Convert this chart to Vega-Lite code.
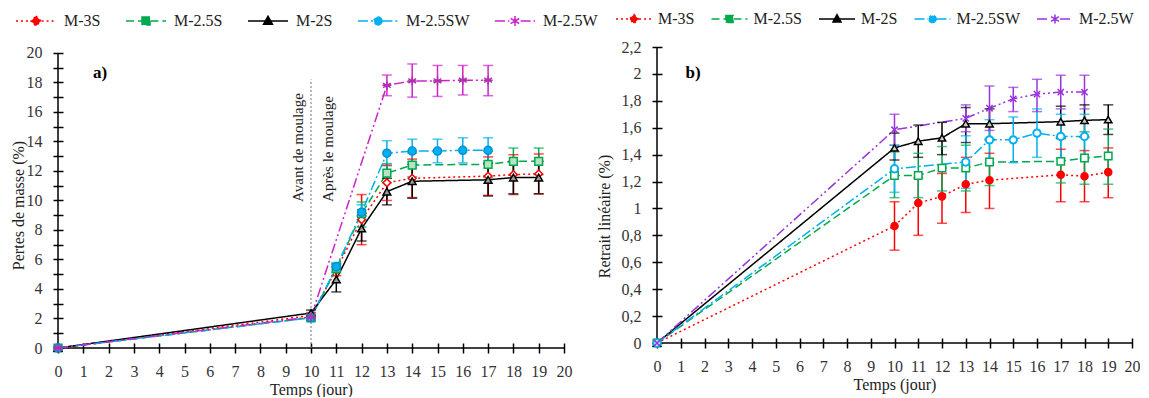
{
  "$schema": "https://vega.github.io/schema/vega-lite/v6.json",
  "background": "white",
  "padding": {"left": 10, "top": 0, "right": 0, "bottom": 0},
  "bounds": "flush",
  "spacing": 93,
  "resolve": {"scale": {"color": "independent", "shape": "independent", "strokeDash": "independent"}, "legend": {"color": "independent", "shape": "independent", "strokeDash": "independent"}},
  "config": {
    "view": {"stroke": null},
    "font": "Liberation Serif",
    "axis": {"labelFont": "Liberation Serif", "labelFontSize": 16, "labelColor": "#333", "titleFont": "Liberation Serif", "titleFontSize": 16, "titleFontWeight": "normal", "titleColor": "#222", "tickColor": "#000", "tickWidth": 1.5, "grid": false},
    "legend": {"labelFont": "Liberation Serif", "labelFontSize": 16, "labelColor": "#222", "symbolOpacity": 1}
  },
  "datasets": {
    "a": [
      {"s": "M-3S", "t": 0, "v": 0},
      {"s": "M-3S", "t": 10, "v": 2.2, "lo": 2.0, "hi": 2.4},
      {"s": "M-3S", "t": 11, "v": 5.3, "lo": 4.9, "hi": 5.7},
      {"s": "M-3S", "t": 12, "v": 8.7, "lo": 7.0, "hi": 10.4},
      {"s": "M-3S", "t": 13, "v": 11.2, "lo": 10.0, "hi": 12.4},
      {"s": "M-3S", "t": 14, "v": 11.5, "lo": 10.2, "hi": 12.8},
      {"s": "M-3S", "t": 17, "v": 11.65, "lo": 10.35, "hi": 12.95},
      {"s": "M-3S", "t": 18, "v": 11.75, "lo": 10.4, "hi": 13.1},
      {"s": "M-3S", "t": 19, "v": 11.8, "lo": 10.45, "hi": 13.15},
      {"s": "M-2.5S", "t": 0, "v": 0},
      {"s": "M-2.5S", "t": 10, "v": 2.05, "lo": 1.85, "hi": 2.25},
      {"s": "M-2.5S", "t": 11, "v": 5.4, "lo": 5.1, "hi": 5.7},
      {"s": "M-2.5S", "t": 12, "v": 9.1, "lo": 8.2, "hi": 9.9},
      {"s": "M-2.5S", "t": 13, "v": 11.85, "lo": 11.2, "hi": 12.5},
      {"s": "M-2.5S", "t": 14, "v": 12.4, "lo": 11.6, "hi": 13.2},
      {"s": "M-2.5S", "t": 17, "v": 12.45, "lo": 11.55, "hi": 13.35},
      {"s": "M-2.5S", "t": 18, "v": 12.65, "lo": 11.75, "hi": 13.55},
      {"s": "M-2.5S", "t": 19, "v": 12.65, "lo": 11.75, "hi": 13.55},
      {"s": "M-2S", "t": 0, "v": 0},
      {"s": "M-2S", "t": 10, "v": 2.37, "lo": 2.17, "hi": 2.57},
      {"s": "M-2S", "t": 11, "v": 4.65, "lo": 3.8, "hi": 5.5},
      {"s": "M-2S", "t": 12, "v": 8.1, "lo": 7.25, "hi": 8.95},
      {"s": "M-2S", "t": 13, "v": 10.6, "lo": 9.7, "hi": 11.5},
      {"s": "M-2S", "t": 14, "v": 11.3, "lo": 10.15, "hi": 12.45},
      {"s": "M-2S", "t": 17, "v": 11.4, "lo": 10.3, "hi": 12.5},
      {"s": "M-2S", "t": 18, "v": 11.55, "lo": 10.45, "hi": 12.65},
      {"s": "M-2S", "t": 19, "v": 11.55, "lo": 10.45, "hi": 12.65},
      {"s": "M-2.5SW", "t": 0, "v": 0},
      {"s": "M-2.5SW", "t": 10, "v": 2.05, "lo": 1.85, "hi": 2.25},
      {"s": "M-2.5SW", "t": 11, "v": 5.5, "lo": 5.2, "hi": 5.8},
      {"s": "M-2.5SW", "t": 12, "v": 9.2, "lo": 8.7, "hi": 9.7},
      {"s": "M-2.5SW", "t": 13, "v": 13.2, "lo": 12.35, "hi": 14.05},
      {"s": "M-2.5SW", "t": 14, "v": 13.35, "lo": 12.6, "hi": 14.15},
      {"s": "M-2.5SW", "t": 15, "v": 13.35, "lo": 12.55, "hi": 14.15},
      {"s": "M-2.5SW", "t": 16, "v": 13.4, "lo": 12.55, "hi": 14.25},
      {"s": "M-2.5SW", "t": 17, "v": 13.4, "lo": 12.55, "hi": 14.25},
      {"s": "M-2.5W", "t": 0, "v": 0},
      {"s": "M-2.5W", "t": 10, "v": 2.1, "lo": 1.9, "hi": 2.3},
      {"s": "M-2.5W", "t": 13, "v": 17.8, "lo": 17.1, "hi": 18.5},
      {"s": "M-2.5W", "t": 14, "v": 18.1, "lo": 17.0, "hi": 19.25},
      {"s": "M-2.5W", "t": 15, "v": 18.1, "lo": 17.05, "hi": 19.15},
      {"s": "M-2.5W", "t": 16, "v": 18.15, "lo": 17.15, "hi": 19.15},
      {"s": "M-2.5W", "t": 17, "v": 18.15, "lo": 17.1, "hi": 19.15}
    ],
    "b": [
      {"s": "M-3S", "t": 0, "v": 0},
      {"s": "M-3S", "t": 10, "v": 0.87, "lo": 0.69, "hi": 1.05},
      {"s": "M-3S", "t": 11, "v": 1.04, "lo": 0.8, "hi": 1.23},
      {"s": "M-3S", "t": 12, "v": 1.09, "lo": 0.89, "hi": 1.26},
      {"s": "M-3S", "t": 13, "v": 1.18, "lo": 0.97, "hi": 1.38},
      {"s": "M-3S", "t": 14, "v": 1.21, "lo": 1.0, "hi": 1.41},
      {"s": "M-3S", "t": 17, "v": 1.25, "lo": 1.05, "hi": 1.44},
      {"s": "M-3S", "t": 18, "v": 1.24, "lo": 1.05, "hi": 1.43},
      {"s": "M-3S", "t": 19, "v": 1.27, "lo": 1.08, "hi": 1.45},
      {"s": "M-2.5S", "t": 0, "v": 0},
      {"s": "M-2.5S", "t": 10, "v": 1.245, "lo": 1.08, "hi": 1.42},
      {"s": "M-2.5S", "t": 11, "v": 1.245, "lo": 1.08, "hi": 1.41},
      {"s": "M-2.5S", "t": 12, "v": 1.3, "lo": 1.13, "hi": 1.46},
      {"s": "M-2.5S", "t": 13, "v": 1.3, "lo": 1.13, "hi": 1.47},
      {"s": "M-2.5S", "t": 14, "v": 1.345, "lo": 1.17, "hi": 1.52},
      {"s": "M-2.5S", "t": 17, "v": 1.35, "lo": 1.19, "hi": 1.53},
      {"s": "M-2.5S", "t": 18, "v": 1.375, "lo": 1.18, "hi": 1.57},
      {"s": "M-2.5S", "t": 19, "v": 1.39, "lo": 1.18, "hi": 1.59},
      {"s": "M-2S", "t": 0, "v": 0},
      {"s": "M-2S", "t": 10, "v": 1.45, "lo": 1.36, "hi": 1.56},
      {"s": "M-2S", "t": 11, "v": 1.5, "lo": 1.38, "hi": 1.62},
      {"s": "M-2S", "t": 12, "v": 1.525, "lo": 1.4, "hi": 1.64},
      {"s": "M-2S", "t": 13, "v": 1.63, "lo": 1.49, "hi": 1.75},
      {"s": "M-2S", "t": 14, "v": 1.63, "lo": 1.51, "hi": 1.74},
      {"s": "M-2S", "t": 17, "v": 1.645, "lo": 1.52, "hi": 1.76},
      {"s": "M-2S", "t": 18, "v": 1.655, "lo": 1.53, "hi": 1.77},
      {"s": "M-2S", "t": 19, "v": 1.66, "lo": 1.55, "hi": 1.77},
      {"s": "M-2.5SW", "t": 0, "v": 0},
      {"s": "M-2.5SW", "t": 10, "v": 1.295, "lo": 1.12, "hi": 1.47},
      {"s": "M-2.5SW", "t": 13, "v": 1.345, "lo": 1.15, "hi": 1.54},
      {"s": "M-2.5SW", "t": 14, "v": 1.51, "lo": 1.34, "hi": 1.66},
      {"s": "M-2.5SW", "t": 15, "v": 1.51, "lo": 1.34, "hi": 1.68},
      {"s": "M-2.5SW", "t": 16, "v": 1.56, "lo": 1.38, "hi": 1.74},
      {"s": "M-2.5SW", "t": 17, "v": 1.535, "lo": 1.37, "hi": 1.7},
      {"s": "M-2.5SW", "t": 18, "v": 1.535, "lo": 1.37, "hi": 1.7},
      {"s": "M-2.5W", "t": 0, "v": 0},
      {"s": "M-2.5W", "t": 10, "v": 1.585, "lo": 1.47, "hi": 1.7},
      {"s": "M-2.5W", "t": 13, "v": 1.67, "lo": 1.57, "hi": 1.77},
      {"s": "M-2.5W", "t": 14, "v": 1.745, "lo": 1.58, "hi": 1.91},
      {"s": "M-2.5W", "t": 15, "v": 1.815, "lo": 1.72, "hi": 1.9},
      {"s": "M-2.5W", "t": 16, "v": 1.85, "lo": 1.72, "hi": 1.96},
      {"s": "M-2.5W", "t": 17, "v": 1.865, "lo": 1.74, "hi": 1.99},
      {"s": "M-2.5W", "t": 18, "v": 1.865, "lo": 1.74, "hi": 1.99}
    ]
  },
  "hconcat": [
    {
      "width": 506,
      "height": 301,
      "data": {"name": "a"},
      "encoding": {
        "x": {"field": "t", "type": "quantitative", "scale": {"domain": [0, 20], "nice": false, "zero": false},
          "axis": {"values": [0,1,2,3,4,5,6,7,8,9,10,11,12,13,14,15,16,17,18,19,20], "offset": -5, "domain": false, "tickSize": 10, "labelPadding": 10, "title": "Temps (jour)", "titleFontWeight": "normal", "titlePadding": 2, "labelFlush": false, "labelOverlap": false}},
        "y": {"field": "v", "type": "quantitative", "scale": {"domain": [0, 20.4], "nice": false, "zero": false},
          "axis": {"values": [0,1,2,3,4,5,6,7,8,9,10,11,12,13,14,15,16,17,18,19,20], "labelExpr": "datum.value % 2 === 0 ? datum.label : ''", "offset": -5, "domain": false, "tickSize": 10, "labelPadding": 11, "title": "Pertes de masse (%)", "titlePadding": 0, "titleY": 158, "labelOverlap": false}}
      },
      "layer": [
        {"data": {"values": [{"t": 0, "v": 0, "v2": 20}]}, "mark": {"type": "rule", "color": "#000", "strokeWidth": 1.5}, "encoding": {"y2": {"field": "v2"}}},
        {"data": {"values": [{"t": 0, "t2": 20, "v": 0}]}, "mark": {"type": "rule", "color": "#000", "strokeWidth": 1.5}, "encoding": {"x2": {"field": "t2"}}},
        {"data": {"values": [{"t": 10, "v": 0, "v2": 18.2}]}, "mark": {"type": "rule", "color": "#777", "strokeWidth": 1, "strokeDash": [2, 2]}, "encoding": {"y2": {"field": "v2"}}},
        {"mark": {"type": "line", "strokeWidth": 1.5},
          "encoding": {
            "color": {"field": "s", "type": "nominal", "scale": {"domain": ["M-3S","M-2.5S","M-2S","M-2.5SW","M-2.5W"], "range": ["#FF0000","#00A84F","#000000","#00B0F0","#CC22CC"]},
              "legend": {"orient": "none", "legendX": -43, "legendY": -47, "direction": "horizontal", "title": null, "symbolSize": 1600, "symbolStrokeWidth": 1.5, "symbolType": "stroke", "symbolFillColor": "white", "labelOffset": 7, "columnPadding": 22, "gridAlign": "none", "padding": 0}},
            "strokeDash": {"field": "s", "type": "nominal", "scale": {"domain": ["M-3S","M-2.5S","M-2S","M-2.5SW","M-2.5W"], "range": [[2,3],[8,4],[1,0],[10,3,2,3],[10,3,2,3,2,3]]}}
          }},
        {"data": {"name": "a"}, "transform": [{"filter": "datum.t < 0"}], "mark": {"type": "point"},
          "encoding": {"shape": {"field": "s", "type": "nominal", "scale": {"domain": ["M-3S","M-2.5S","M-2S","M-2.5SW","M-2.5W"], "range": [
            "M-1,0H-0.28M0.28,0H1M0,-0.25L0.25,0L0,0.25L-0.25,0Z",
            "M-1,0H-0.22M0.22,0H1M-0.2,-0.2H0.2V0.2H-0.2ZM-0.2,-0.2L0.2,0.2M-0.2,0.2L0.2,-0.2",
            "M-1,0H1M0,-0.24L0.22,0.16H-0.22Z",
            "M-1,0H-0.22M0.22,0H1M0.2,0A0.2,0.2,0,1,1,-0.2,0A0.2,0.2,0,1,1,0.2,0Z",
            "M-1,0H-0.28M0.28,0H1M0,-0.25V0.25M-0.22,-0.13L0.22,0.13M-0.22,0.13L0.22,-0.13"]}}}},
        {"transform": [{"filter": "isValid(datum.lo)"}], "mark": {"type": "rule", "strokeWidth": 1.5},
          "encoding": {"y": {"field": "lo", "type": "quantitative", "scale": {"domain": [0, 20.4], "nice": false, "zero": false},
              "axis": {"values": [0,1,2,3,4,5,6,7,8,9,10,11,12,13,14,15,16,17,18,19,20], "labelExpr": "datum.value % 2 === 0 ? datum.label : ''", "offset": -5, "domain": false, "tickSize": 10, "labelPadding": 11, "title": "Pertes de masse (%)", "titlePadding": 0, "titleY": 158, "labelOverlap": false}},
            "y2": {"field": "hi"},
            "color": {"field": "s", "type": "nominal", "scale": {"domain": ["M-3S","M-2.5S","M-2S","M-2.5SW","M-2.5W"], "range": ["#FF0000","#00A84F","#000000","#00B0F0","#CC22CC"]}, "legend": null}}},
        {"transform": [{"filter": "isValid(datum.lo)"}], "mark": {"type": "tick", "orient": "horizontal", "size": 10, "thickness": 1.5},
          "encoding": {"y": {"field": "lo", "type": "quantitative", "scale": {"domain": [0, 20.4], "nice": false, "zero": false},
              "axis": {"values": [0,1,2,3,4,5,6,7,8,9,10,11,12,13,14,15,16,17,18,19,20], "labelExpr": "datum.value % 2 === 0 ? datum.label : ''", "offset": -5, "domain": false, "tickSize": 10, "labelPadding": 11, "title": "Pertes de masse (%)", "titlePadding": 0, "titleY": 158, "labelOverlap": false}},
            "color": {"field": "s", "type": "nominal", "scale": {"domain": ["M-3S","M-2.5S","M-2S","M-2.5SW","M-2.5W"], "range": ["#FF0000","#00A84F","#000000","#00B0F0","#CC22CC"]}, "legend": null}}},
        {"transform": [{"filter": "isValid(datum.hi)"}], "mark": {"type": "tick", "orient": "horizontal", "size": 10, "thickness": 1.5},
          "encoding": {"y": {"field": "hi", "type": "quantitative", "scale": {"domain": [0, 20.4], "nice": false, "zero": false},
              "axis": {"values": [0,1,2,3,4,5,6,7,8,9,10,11,12,13,14,15,16,17,18,19,20], "labelExpr": "datum.value % 2 === 0 ? datum.label : ''", "offset": -5, "domain": false, "tickSize": 10, "labelPadding": 11, "title": "Pertes de masse (%)", "titlePadding": 0, "titleY": 158, "labelOverlap": false}},
            "color": {"field": "s", "type": "nominal", "scale": {"domain": ["M-3S","M-2.5S","M-2S","M-2.5SW","M-2.5W"], "range": ["#FF0000","#00A84F","#000000","#00B0F0","#CC22CC"]}, "legend": null}}},
        {"transform": [{"filter": "datum.s === 'M-3S'"}], "mark": {"type": "point", "shape": "diamond", "filled": true, "fill": "#FFFFFF", "stroke": "#FF0000", "strokeWidth": 1.5, "size": 60, "opacity": 1}},
        {"transform": [{"filter": "datum.s === 'M-2.5S'"}], "mark": {"type": "point", "shape": "square", "filled": true, "fill": "#B5E3C4", "stroke": "#00A84F", "strokeWidth": 1.5, "size": 60, "opacity": 1}},
        {"transform": [{"filter": "datum.s === 'M-2S'"}], "mark": {"type": "point", "shape": "triangle-up", "filled": true, "fill": "#9A9A9A", "stroke": "#000000", "strokeWidth": 1.5, "size": 60, "opacity": 1}},
        {"transform": [{"filter": "datum.s === 'M-2.5SW'"}], "mark": {"type": "point", "shape": "circle", "filled": true, "fill": "#00B0F0", "stroke": "#0090D0", "strokeWidth": 1.5, "size": 65, "opacity": 1}},
        {"transform": [{"filter": "datum.s === 'M-2.5W'"}], "mark": {"type": "point", "shape": "M0,-1V1M-0.87,-0.5L0.87,0.5M-0.87,0.5L0.87,-0.5M-1,0H1", "filled": false, "stroke": "#B030B0", "strokeWidth": 1.5, "size": 80, "opacity": 1}},
        {"data": {"values": [{"t": 9.49, "v": 9.9, "label": "Avant de moulage"}, {"t": 10.67, "v": 9.9, "label": "Après le moulage"}]},
          "mark": {"type": "text", "angle": 270, "align": "left", "baseline": "middle", "font": "Liberation Serif", "fontSize": 15, "color": "#222"},
          "encoding": {"text": {"field": "label"}}},
        {"data": {"values": [{"t": 1.66, "v": 18.66, "label": "a)"}]},
          "mark": {"type": "text", "align": "center", "baseline": "middle", "font": "Liberation Serif", "fontSize": 17, "fontWeight": "bold", "color": "#000"},
          "encoding": {"text": {"field": "label"}}}
      ]
    },
    {
      "width": 475,
      "height": 296,
      "data": {"name": "b"},
      "encoding": {
        "x": {"field": "t", "type": "quantitative", "scale": {"domain": [0, 20], "nice": false, "zero": false},
          "axis": {"values": [0,1,2,3,4,5,6,7,8,9,10,11,12,13,14,15,16,17,18,19,20], "offset": -5, "domain": false, "tickSize": 10, "labelPadding": 10, "title": "Temps (jour)", "titleFontWeight": "normal", "titlePadding": 2, "labelFlush": false, "labelOverlap": false}},
        "y": {"field": "v", "type": "quantitative", "scale": {"domain": [0, 2.2], "nice": false, "zero": false},
          "axis": {"values": [0,0.2,0.4,0.6,0.8,1,1.2,1.4,1.6,1.8,2,2.2], "labelExpr": "replace(format(datum.value, '.1~f'), '.', ',')", "offset": -5, "domain": false, "tickSize": 10, "labelPadding": 11, "title": "Retrait linéaire (%)", "titlePadding": 9, "titleY": 169, "labelOverlap": false}}
      },
      "layer": [
        {"data": {"values": [{"t": 0, "v": 0, "v2": 2.2}]}, "mark": {"type": "rule", "color": "#000", "strokeWidth": 1.5}, "encoding": {"y2": {"field": "v2"}}},
        {"data": {"values": [{"t": 0, "t2": 20, "v": 0}]}, "mark": {"type": "rule", "color": "#000", "strokeWidth": 1.5}, "encoding": {"x2": {"field": "t2"}}},
        {"mark": {"type": "line", "strokeWidth": 1.5},
          "encoding": {
            "color": {"field": "s", "type": "nominal", "scale": {"domain": ["M-3S","M-2.5S","M-2S","M-2.5SW","M-2.5W"], "range": ["#FF0000","#00A84F","#000000","#00B0F0","#9933DD"]},
              "legend": {"orient": "none", "legendX": -42, "legendY": -47, "direction": "horizontal", "title": null, "symbolSize": 1296, "symbolStrokeWidth": 1.5, "symbolType": "stroke", "symbolFillColor": "white", "labelOffset": 5, "columnPadding": 13.5, "gridAlign": "none", "padding": 0}},
            "strokeDash": {"field": "s", "type": "nominal", "scale": {"domain": ["M-3S","M-2.5S","M-2S","M-2.5SW","M-2.5W"], "range": [[2,3],[8,4],[1,0],[10,3,2,3],[10,3,2,3,2,3]]}}
          }},
        {"data": {"name": "b"}, "transform": [{"filter": "datum.t < 0"}], "mark": {"type": "point"},
          "encoding": {"shape": {"field": "s", "type": "nominal", "scale": {"domain": ["M-3S","M-2.5S","M-2S","M-2.5SW","M-2.5W"], "range": [
            "M-1,0H-0.28M0.28,0H1M0,-0.25L0.25,0L0,0.25L-0.25,0Z",
            "M-1,0H-0.22M0.22,0H1M-0.2,-0.2H0.2V0.2H-0.2ZM-0.2,-0.2L0.2,0.2M-0.2,0.2L0.2,-0.2",
            "M-1,0H1M0,-0.24L0.22,0.16H-0.22Z",
            "M-1,0H-0.22M0.22,0H1M0.2,0A0.2,0.2,0,1,1,-0.2,0A0.2,0.2,0,1,1,0.2,0Z",
            "M-1,0H-0.28M0.28,0H1M0,-0.25V0.25M-0.22,-0.13L0.22,0.13M-0.22,0.13L0.22,-0.13"]}}}},
        {"transform": [{"filter": "isValid(datum.lo)"}], "mark": {"type": "rule", "strokeWidth": 1.5},
          "encoding": {"y": {"field": "lo", "type": "quantitative", "scale": {"domain": [0, 2.2], "nice": false, "zero": false},
              "axis": {"values": [0,0.2,0.4,0.6,0.8,1,1.2,1.4,1.6,1.8,2,2.2], "labelExpr": "replace(format(datum.value, '.1~f'), '.', ',')", "offset": -5, "domain": false, "tickSize": 10, "labelPadding": 11, "title": "Retrait linéaire (%)", "titlePadding": 9, "titleY": 169, "labelOverlap": false}},
            "y2": {"field": "hi"},
            "color": {"field": "s", "type": "nominal", "scale": {"domain": ["M-3S","M-2.5S","M-2S","M-2.5SW","M-2.5W"], "range": ["#FF0000","#00A84F","#000000","#00B0F0","#9933DD"]}, "legend": null}}},
        {"transform": [{"filter": "isValid(datum.lo)"}], "mark": {"type": "tick", "orient": "horizontal", "size": 10, "thickness": 1.5},
          "encoding": {"y": {"field": "lo", "type": "quantitative", "scale": {"domain": [0, 2.2], "nice": false, "zero": false},
              "axis": {"values": [0,0.2,0.4,0.6,0.8,1,1.2,1.4,1.6,1.8,2,2.2], "labelExpr": "replace(format(datum.value, '.1~f'), '.', ',')", "offset": -5, "domain": false, "tickSize": 10, "labelPadding": 11, "title": "Retrait linéaire (%)", "titlePadding": 9, "titleY": 169, "labelOverlap": false}},
            "color": {"field": "s", "type": "nominal", "scale": {"domain": ["M-3S","M-2.5S","M-2S","M-2.5SW","M-2.5W"], "range": ["#FF0000","#00A84F","#000000","#00B0F0","#9933DD"]}, "legend": null}}},
        {"transform": [{"filter": "isValid(datum.hi)"}], "mark": {"type": "tick", "orient": "horizontal", "size": 10, "thickness": 1.5},
          "encoding": {"y": {"field": "hi", "type": "quantitative", "scale": {"domain": [0, 2.2], "nice": false, "zero": false},
              "axis": {"values": [0,0.2,0.4,0.6,0.8,1,1.2,1.4,1.6,1.8,2,2.2], "labelExpr": "replace(format(datum.value, '.1~f'), '.', ',')", "offset": -5, "domain": false, "tickSize": 10, "labelPadding": 11, "title": "Retrait linéaire (%)", "titlePadding": 9, "titleY": 169, "labelOverlap": false}},
            "color": {"field": "s", "type": "nominal", "scale": {"domain": ["M-3S","M-2.5S","M-2S","M-2.5SW","M-2.5W"], "range": ["#FF0000","#00A84F","#000000","#00B0F0","#9933DD"]}, "legend": null}}},
        {"transform": [{"filter": "datum.s === 'M-3S'"}], "mark": {"type": "point", "shape": "circle", "filled": true, "fill": "#FF0000", "stroke": "#FF0000", "strokeWidth": 1.5, "size": 50, "opacity": 1}},
        {"transform": [{"filter": "datum.s === 'M-2.5S'"}], "mark": {"type": "point", "shape": "square", "filled": true, "fill": "#FFFFFF", "stroke": "#00A84F", "strokeWidth": 1.5, "size": 55, "opacity": 1}},
        {"transform": [{"filter": "datum.s === 'M-2S'"}], "mark": {"type": "point", "shape": "triangle-up", "filled": true, "fill": "#D0D0D0", "stroke": "#000000", "strokeWidth": 1.5, "size": 55, "opacity": 1}},
        {"transform": [{"filter": "datum.s === 'M-2.5SW'"}], "mark": {"type": "point", "shape": "circle", "filled": true, "fill": "#FFFFFF", "stroke": "#00B0F0", "strokeWidth": 2, "size": 55, "opacity": 1}},
        {"transform": [{"filter": "datum.s === 'M-2.5W'"}], "mark": {"type": "point", "shape": "M-0.7,-0.7L0.7,0.7M-0.7,0.7L0.7,-0.7", "filled": false, "stroke": "#9933DD", "strokeWidth": 1.5, "size": 80, "opacity": 1}},
        {"data": {"values": [{"t": 1.52, "v": 2.009, "label": "b)"}]},
          "mark": {"type": "text", "align": "center", "baseline": "middle", "font": "Liberation Serif", "fontSize": 17, "fontWeight": "bold", "color": "#000"},
          "encoding": {"text": {"field": "label"}}}
      ]
    }
  ]
}
